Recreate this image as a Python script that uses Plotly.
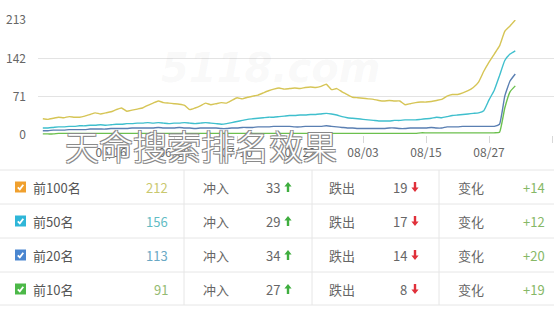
import pandas as pd
import plotly.graph_objects as go

# ---------------- data ----------------
start_date = "2017-06-03"
top100 = [30, 29, 31, 33, 32, 34, 33, 33, 35, 38, 41, 39, 41, 43, 47, 50, 44, 46, 48, 50,
          55, 59, 63, 60, 59, 58, 57, 55, 47, 50, 54, 59, 56, 58, 60, 59, 64, 69, 67, 70,
          72, 74, 78, 82, 85, 87, 85, 86, 87, 86, 88, 89, 88, 90, 94, 84, 86, 80, 75, 70,
          69, 68, 67, 66, 64, 63, 64, 63, 63, 56, 58, 60, 61, 61, 62, 64, 66, 72, 75, 75,
          78, 82, 88, 98, 118, 135, 150, 165, 192, 202, 213]
top50 = [13, 13, 14, 15, 15, 16, 16, 17, 17, 18, 18, 19, 18, 19, 20, 20, 21, 21, 22, 22,
         23, 22, 23, 22, 21, 22, 22, 23, 22, 21, 22, 23, 22, 21, 20, 21, 23, 25, 27, 29,
         30, 31, 32, 33, 33, 34, 35, 36, 36, 37, 37, 38, 38, 39, 40, 39, 37, 34, 32, 31,
         30, 29, 28, 27, 26, 26, 26, 27, 27, 28, 28, 28, 29, 30, 31, 33, 32, 34, 36, 37,
         38, 39, 40, 41, 45, 65, 83, 110, 138, 150, 156]
top20 = [8, 8, 9, 9, 9, 10, 10, 10, 10, 11, 11, 11, 11, 12, 12, 12, 12, 13, 13, 13,
         13, 13, 14, 13, 13, 13, 14, 13, 13, 12, 13, 13, 13, 13, 12, 12, 13, 13, 14, 14,
         14, 15, 15, 15, 16, 16, 16, 16, 15, 15, 16, 16, 16, 16, 17, 16, 15, 14, 13, 13,
         12, 12, 12, 12, 12, 12, 13, 13, 12, 12, 13, 13, 13, 13, 14, 13, 13, 15, 15, 15,
         16, 16, 16, 16, 16, 16, 16, 20, 72, 100, 113]
top10 = [2, 2, 2, 3, 3, 3, 3, 3, 3, 3, 3, 3, 3, 3, 3, 3, 3, 3, 3, 3,
         3, 3, 3, 3, 3, 3, 3, 3, 3, 3, 3, 3, 3, 3, 3, 3, 3, 3, 3, 3,
         3, 3, 3, 3, 3, 3, 3, 3, 3, 3, 3, 3, 3, 3, 3, 3, 3, 3, 3, 3,
         3, 3, 3, 3, 3, 3, 3, 3, 3, 3, 3, 3, 4, 4, 4, 4, 4, 4, 4, 4,
         4, 4, 4, 4, 4, 4, 4, 5, 50, 80, 91]

x_tick_vals = ["2017-06-16", "2017-06-28", "2017-07-10", "2017-07-22", "2017-08-03",
               "2017-08-15", "2017-08-27", "2017-09-08"]
x_tick_text = ["06/16", "06/28", "07/10", "07/22", "08/03", "08/15", "08/27", ""]
y_tick_vals = [0, 71, 142, 213]

row_names = ["前100名", "前50名", "前20名", "前10名"]
row_totals = [212, 156, 113, 91]
row_in = [33, 29, 34, 27]
row_out = [19, 17, 14, 8]
row_change = ["+14", "+12", "+20", "+19"]

line_colors = ["#d6c556", "#3fbfcd", "#5a7fb2", "#6cc04e"]
box_colors = ["#f0a02e", "#2fb6d8", "#4a86d0", "#4cb848"]
total_colors = ["#c9c86e", "#62bcc4", "#6aa8c4", "#94bb72"]
title_text = "天命搜索排名效果"

# ---------------- geometry ----------------
W, H = 554, 310
L, R, T, B = 38, 0, 20, 175
PW, PH = W - L - R, H - T - B


def px(x):
    return (x - L) / PW


def py(y):
    return (H - B - y) / PH


dates = pd.date_range(start_date, periods=len(top100), freq="D")

fig = go.Figure()
for vals, name, col in zip([top100, top50, top20, top10], row_names, line_colors):
    fig.add_trace(go.Scatter(x=dates, y=vals, mode="lines", name=name,
                             line=dict(color=col, width=1.4, shape="spline", smoothing=0.4),
                             hoverinfo="skip", cliponaxis=False))

font_cn = "Noto Sans CJK SC, sans-serif"

fig.update_layout(
    width=W, height=H,
    margin=dict(l=L, r=R, t=T, b=B, pad=0),
    paper_bgcolor="white", plot_bgcolor="white",
    showlegend=False,
    font=dict(family=font_cn, color="#666", size=12),
    xaxis=dict(type="date", range=["2017-06-02 02:00", "2017-09-08 09:00"],
               tickvals=x_tick_vals, ticktext=x_tick_text,
               ticks="outside", ticklen=7, tickcolor="#d8d8d8", tickwidth=1,
               showgrid=False, zeroline=False, showline=False,
               tickfont=dict(size=12, color="#666"), fixedrange=True),
    yaxis=dict(range=[0, 213], tickvals=y_tick_vals, showgrid=True,
               gridcolor="#e3e3e3", gridwidth=1, zeroline=False, showline=False,
               ticks="", ticklabelstandoff=11,
               tickfont=dict(size=12, color="#666"), fixedrange=True),
)

shapes = []
annotations = []

# watermark
annotations.append(dict(x=px(270), y=py(68), xref="paper", yref="paper",
                        text="<b><i>5118.com</i></b>", showarrow=False,
                        font=dict(family="DejaVu Sans", size=40, color="rgba(160,160,160,0.08)")))

# table lines
for yy in [170, 204, 238, 272, 305]:
    shapes.append(dict(type="line", xref="paper", yref="paper", x0=px(0), x1=px(W),
                       y0=py(yy), y1=py(yy), line=dict(color="#e6e6e6", width=1)))
for xx in [184, 312, 439]:
    shapes.append(dict(type="line", xref="paper", yref="paper", x0=px(xx), x1=px(xx),
                       y0=py(170), y1=py(305), line=dict(color="#e6e6e6", width=1)))

row_y = [187, 221, 255, 289]
for i, cy in enumerate(row_y):
    # checkbox
    bx, by, s = 15, cy - 5.5, 11
    shapes.append(dict(type="rect", xref="paper", yref="paper",
                       x0=px(bx), x1=px(bx + s), y0=py(by), y1=py(by + s),
                       fillcolor=box_colors[i], line=dict(width=0)))
    shapes.append(dict(type="path", xref="paper", yref="paper",
                       path=f"M {px(bx+2.8)} {py(cy+0.3)} L {px(bx+4.8)} {py(cy+2.3)} L {px(bx+8.3)} {py(cy-2.2)}",
                       line=dict(color="white", width=1.8)))
    annotations.append(dict(x=px(31), y=py(cy), xref="paper", yref="paper", xanchor="left",
                            yanchor="middle", text=row_names[i], showarrow=False,
                            font=dict(family=font_cn, size=13, color="#555")))
    annotations.append(dict(x=px(170), y=py(cy), xref="paper", yref="paper", xanchor="right",
                            yanchor="middle", text=str(row_totals[i]), showarrow=False,
                            font=dict(family=font_cn, size=13, color=total_colors[i])))
    annotations.append(dict(x=px(216), y=py(cy), xref="paper", yref="paper", xanchor="center",
                            yanchor="middle", text="冲入", showarrow=False,
                            font=dict(family=font_cn, size=13, color="#666")))
    annotations.append(dict(x=px(282), y=py(cy), xref="paper", yref="paper", xanchor="right",
                            yanchor="middle", text=str(row_in[i]), showarrow=False,
                            font=dict(family=font_cn, size=13, color="#666")))
    ax = 288
    shapes.append(dict(type="path", xref="paper", yref="paper",
                       path=(f"M {px(ax)} {py(cy-5)} L {px(ax+3.6)} {py(cy-0.5)} L {px(ax+1.2)} {py(cy-0.5)} "
                             f"L {px(ax+1.2)} {py(cy+5)} L {px(ax-1.2)} {py(cy+5)} L {px(ax-1.2)} {py(cy-0.5)} "
                             f"L {px(ax-3.6)} {py(cy-0.5)} Z"),
                       fillcolor="#3fae3f", line=dict(width=0)))
    annotations.append(dict(x=px(342), y=py(cy), xref="paper", yref="paper", xanchor="center",
                            yanchor="middle", text="跌出", showarrow=False,
                            font=dict(family=font_cn, size=13, color="#666")))
    annotations.append(dict(x=px(409), y=py(cy), xref="paper", yref="paper", xanchor="right",
                            yanchor="middle", text=str(row_out[i]), showarrow=False,
                            font=dict(family=font_cn, size=13, color="#666")))
    ax = 415
    shapes.append(dict(type="path", xref="paper", yref="paper",
                       path=(f"M {px(ax)} {py(cy+5)} L {px(ax+3.6)} {py(cy+0.5)} L {px(ax+1.2)} {py(cy+0.5)} "
                             f"L {px(ax+1.2)} {py(cy-5)} L {px(ax-1.2)} {py(cy-5)} L {px(ax-1.2)} {py(cy+0.5)} "
                             f"L {px(ax-3.6)} {py(cy+0.5)} Z"),
                       fillcolor="#e0303a", line=dict(width=0)))
    annotations.append(dict(x=px(471), y=py(cy), xref="paper", yref="paper", xanchor="center",
                            yanchor="middle", text="变化", showarrow=False,
                            font=dict(family=font_cn, size=13, color="#666")))
    annotations.append(dict(x=px(534), y=py(cy), xref="paper", yref="paper", xanchor="center",
                            yanchor="middle", text=row_change[i], showarrow=False,
                            font=dict(family=font_cn, size=13, color="#86b866")))

# overlay title
annotations.append(dict(x=px(201), y=py(145), xref="paper", yref="paper", xanchor="center",
                        yanchor="middle", text=title_text, showarrow=False,
                        font=dict(family=font_cn, size=34, color="white", weight=300,
                                  shadow="-1px -1px 0 #8a8a8a, 1px -1px 0 #8a8a8a, -1px 1px 0 #8a8a8a, 1px 1px 0 #8a8a8a")))

fig.update_layout(shapes=shapes, annotations=annotations)
fig.write_html("out.html")
